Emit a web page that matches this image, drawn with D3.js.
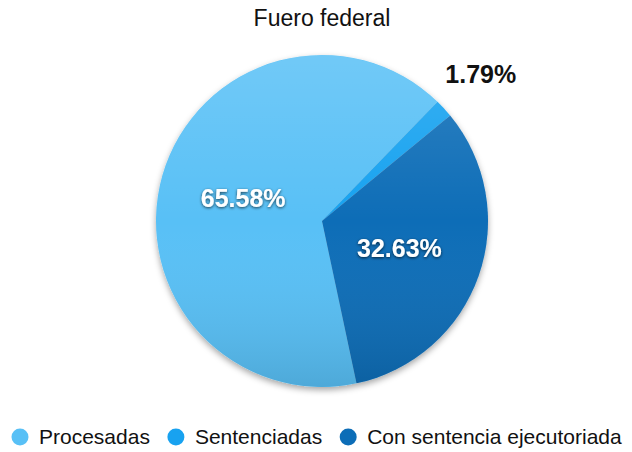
<!DOCTYPE html>
<html><head><meta charset="utf-8">
<script src="https://cdn.jsdelivr.net/npm/d3@7"></script>
<style>
html,body{margin:0;padding:0;background:#fff;}
text{font-family:"Liberation Sans",Arial,Helvetica,sans-serif;}
</style></head>
<body>
<svg id="chart" width="632" height="452"></svg>
<script>
const title = "Fuero federal";
const categories = ["Procesadas", "Sentenciadas", "Con sentencia ejecutoriada"];
const values = [65.58, 1.79, 32.63];
const labels = ["65.58%", "1.79%", "32.63%"];
const colors = ["#58c0f6", "#18a2f0", "#0c6db7"];

const svg = d3.select("#chart");
const cx = 322, cy = 221, R = 166;
const startDeg = 168;

const defs = svg.append("defs");
const f = defs.append("filter").attr("id","shadow").attr("x","-20%").attr("y","-20%").attr("width","140%").attr("height","150%");
f.append("feDropShadow").attr("dx",0).attr("dy",3).attr("stdDeviation",3).attr("flood-color","#000").attr("flood-opacity",0.35);
const g2 = defs.append("linearGradient").attr("id","shade").attr("x1",0).attr("y1",0).attr("x2",0).attr("y2",1);
g2.append("stop").attr("offset","0%").attr("stop-color","#fff").attr("stop-opacity",0.15);
g2.append("stop").attr("offset","50%").attr("stop-color","#fff").attr("stop-opacity",0.0);
g2.append("stop").attr("offset","100%").attr("stop-color","#000").attr("stop-opacity",0.12);
const tf = defs.append("filter").attr("id","tshadow").attr("x","-20%").attr("y","-30%").attr("width","140%").attr("height","160%");
tf.append("feDropShadow").attr("dx",0).attr("dy",1).attr("stdDeviation",1.5).attr("flood-color","#000").attr("flood-opacity",0.7);

svg.append("text").attr("x", cx).attr("y", 26).attr("text-anchor","middle")
  .attr("font-size", 23).attr("fill","#111").text(title);

const pie = d3.pie().sort(null).value(d => d)
  .startAngle(startDeg*Math.PI/180).endAngle(startDeg*Math.PI/180 + 2*Math.PI);
const arcs = pie(values);
const arc = d3.arc().innerRadius(0).outerRadius(R);
const labelArc = d3.arc().innerRadius(82).outerRadius(82);
const outerArc = d3.arc().innerRadius(216).outerRadius(216);

const g = svg.append("g").attr("transform", `translate(${cx},${cy})`);
const pg = g.append("g").attr("filter","url(#shadow)");
pg.selectAll("path.slice").data(arcs).enter().append("path")
  .attr("class","slice").attr("d", arc).attr("fill", (d,i) => colors[i]);
g.append("circle").attr("r", R).attr("fill","url(#shade)");

arcs.forEach((d,i) => {
  const small = values[i] < 5;
  const p = small ? outerArc.centroid(d) : labelArc.centroid(d);
  g.append("text").attr("x", p[0]).attr("y", p[1]).attr("dy","0.35em")
    .attr("text-anchor","middle").attr("font-size", 25).attr("font-weight","bold")
    .attr("fill", small ? "#111" : "#fff")
    .attr("filter", small ? null : "url(#tshadow)")
    .text(labels[i]);
});

// legend
const lg = svg.append("g").attr("transform","translate(0,437)");
let x = 20;
categories.forEach((c,i) => {
  lg.append("circle").attr("cx", x).attr("cy", 0).attr("r", 8.5).attr("fill", colors[i]);
  const t = lg.append("text").attr("x", x + 19).attr("y", 0).attr("dy","0.35em")
    .attr("font-size", 21).attr("fill","#111").text(c);
  x += 19 + t.node().getComputedTextLength() + 26;
});
</script>
</body></html>
